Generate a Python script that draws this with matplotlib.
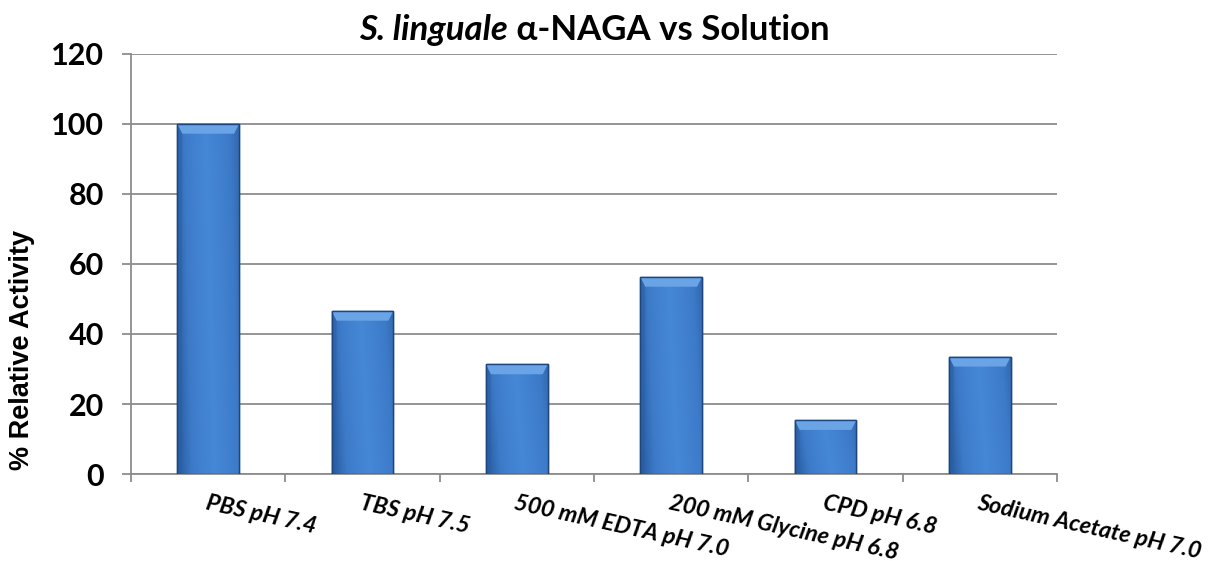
import numpy as np
import matplotlib
matplotlib.use("Agg")
import matplotlib.pyplot as plt
from matplotlib.patches import Polygon
from matplotlib.colors import LinearSegmentedColormap

plt.rcParams['font.family'] = ['Lato', 'DejaVu Sans']

# data
solutions = ["PBS pH 7.4", "TBS pH 7.5", "500 mM EDTA pH 7.0",
             "200 mM Glycine pH 6.8", "CPD pH 6.8", "Sodium Acetate pH 7.0"]
activity = [100, 46.6, 31.3, 56.3, 15.4, 33.5]
yticks = [0, 20, 40, 60, 80, 100, 120]

grid_col = "#8c8c8c"
bar_w = 0.4

fig = plt.figure(figsize=(12.24, 5.61), dpi=100)
ax = fig.add_axes([0.107, 0.155, 0.7565, 0.749])

x = np.arange(len(solutions))
bars = ax.bar(x, activity, width=bar_w, color="#3a73bd", edgecolor="#1d467e",
              linewidth=1.0, zorder=3)

# shaded fill for each bar: darker towards the edges and the bottom
cmap = LinearSegmentedColormap.from_list("b", ["#1f4f8f", "#3d7bc9", "#4688d6", "#3d7bc9", "#254f8c"])
hh = np.linspace(0, 1, 64)
vv = np.linspace(0, 1, 64)
H, V = np.meshgrid(hh, vv)
shade = 0.15 + 0.7 * H ** 0.9
shade = np.clip(shade - 0.10 * (1 - V), 0, 1)
for b in bars:
    x0, w, h = b.get_x(), b.get_width(), b.get_height()
    im = ax.imshow(shade, cmap=cmap, vmin=0, vmax=1, origin="lower",
                   extent=[x0, x0 + w, 0, h], aspect="auto", zorder=3.5,
                   interpolation="bicubic")
    im.set_clip_path(b)
    # bevel along the top
    bev = 2.8
    dx = w * 0.08
    ax.add_patch(Polygon([[x0, h], [x0 + w, h], [x0 + w - dx, h - bev], [x0 + dx, h - bev]],
                         closed=True, facecolor="#6aa4e6", edgecolor="none", zorder=3.7))
    ax.add_patch(Polygon([[x0, 0], [x0, h], [x0 + dx, h - bev], [x0 + dx, 0]],
                         closed=True, facecolor="#2c5fa3", edgecolor="none", alpha=0.5, zorder=3.7))
    ax.add_patch(plt.Rectangle((x0, 0), w, h, facecolor="none", edgecolor="#1d467e",
                               linewidth=1.0, zorder=3.9))

ax.set_xlim(-0.5, len(solutions) - 0.5)
ax.set_ylim(0, 120)
ax.set_yticks(yticks)
ax.yaxis.grid(True, color=grid_col, linewidth=1.3, zorder=0)
ax.set_axisbelow(True)

for s in ["top", "right"]:
    ax.spines[s].set_visible(False)
for s in ["left", "bottom"]:
    ax.spines[s].set_color(grid_col)
    ax.spines[s].set_linewidth(1.3)

ax.tick_params(axis="y", direction="out", length=6.5, width=1.3, color=grid_col,
               labelsize=22, pad=13)
for lab in ax.get_yticklabels():
    lab.set_fontweight("bold")

ax.set_xticks(x)
ax.set_xticklabels(solutions, rotation=-12.5, ha="left", va="top",
                   rotation_mode="anchor", fontsize=16.8, fontweight="bold",
                   fontstyle="italic")
ax.tick_params(axis="x", length=0, pad=13)
ax.set_xticks(np.arange(len(solutions) + 1) - 0.5, minor=True)
ax.tick_params(axis="x", which="minor", direction="out", length=6, width=1.3,
               color=grid_col)

ax.set_ylabel("% Relative Activity", fontsize=19.5, fontweight="bold",
              family="Liberation Sans")
ax.yaxis.set_label_coords(-0.104, 0.295)

# title: italic species name followed by upright text
t1 = fig.text(0, 0, "S. linguale", fontsize=25, fontweight="bold", fontstyle="italic")
t2 = fig.text(0, 0, " α-NAGA vs Solution", fontsize=25, fontweight="bold")
r = fig.canvas.get_renderer()
w1 = t1.get_window_extent(r).width
w2 = t2.get_window_extent(r).width
W, Hf = fig.get_size_inches() * fig.dpi
xc = (0.107 + 0.7565 / 2) * W
x_start = xc - (w1 + w2) / 2
y_base = (0.904 * Hf + 14) / Hf
t1.set_position((x_start / W, y_base))
t2.set_position(((x_start + w1) / W, y_base))
t1.set_va("baseline")
t2.set_va("baseline")

fig.savefig("out.png", dpi=100, facecolor="white")
